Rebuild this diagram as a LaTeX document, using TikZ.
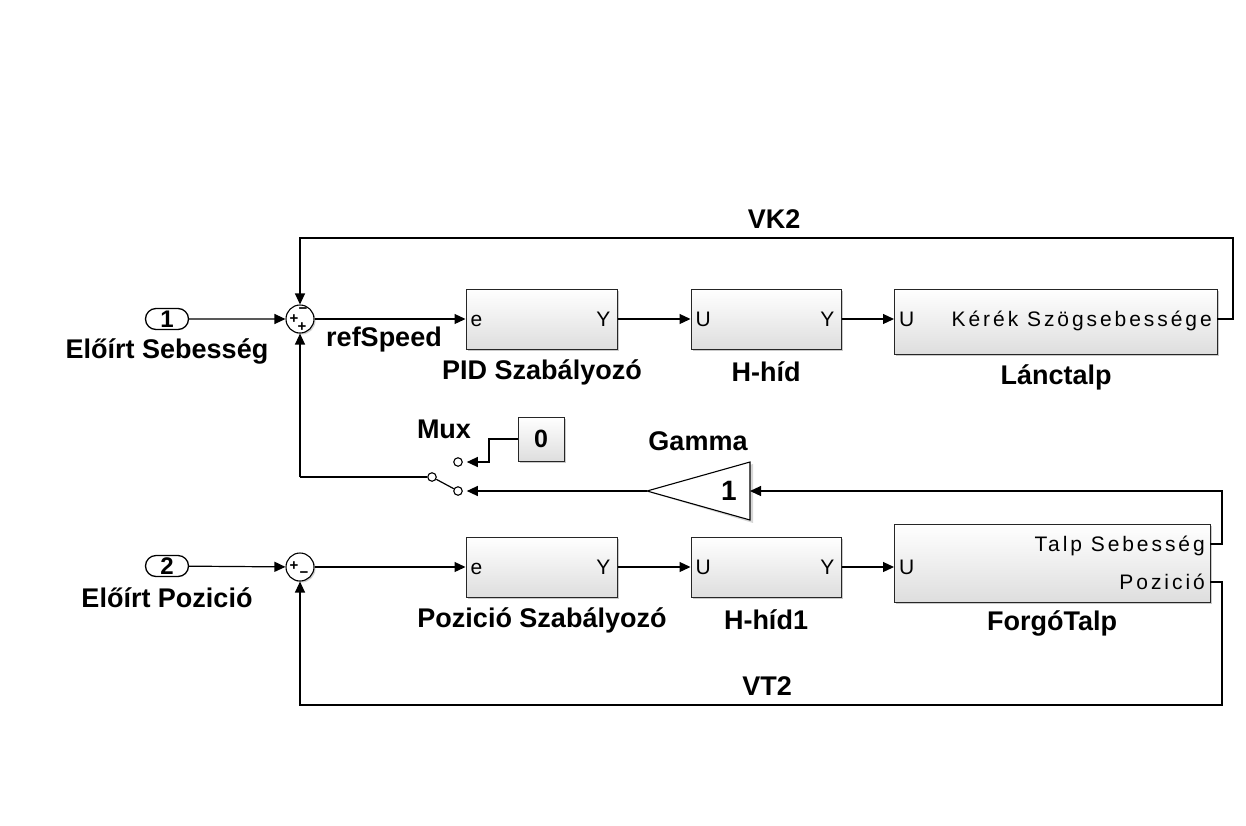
\documentclass[tikz,border=0pt]{standalone}
\usepackage{fontspec}
\setmainfont{Liberation Sans}
\newfontfamily\portfont[LetterSpace=14]{Liberation Sans}
\usetikzlibrary{shapes.misc,shadows,arrows.meta}
\begin{document}
\begin{tikzpicture}[x=1pt,y=-1pt,
  lbl/.style={font=\bfseries\fontsize{27}{29}\selectfont, inner sep=0pt},
  prt/.style={font=\portfont\fontsize{21}{23}\selectfont, inner sep=0pt, text height=15pt, text depth=0pt},
  sgn/.style={font=\bfseries\fontsize{15}{15}\selectfont, inner sep=0pt},
  blk/.style={draw=black!85, line width=1pt, rectangle, top color=white, bottom color=black!13,
    drop shadow={shadow xshift=2pt, shadow yshift=-2pt, opacity=0.35, fill=black!60}, inner sep=0pt},
  inport/.style={draw, line width=1.3pt, rounded rectangle, minimum width=43pt, minimum height=21pt,
    inner sep=0pt, font=\bfseries\fontsize{24}{24}\selectfont, fill=white},
  sumb/.style={draw, line width=1.1pt, circle, minimum size=28pt, inner sep=0pt, fill=white,
    drop shadow={shadow xshift=1.5pt, shadow yshift=-1.5pt, opacity=0.3, fill=black!60}},
  sig/.style={line width=1.2pt},
  arr/.style={sig, -{Triangle[length=11pt,width=10pt]}},
  cont/.style={draw, line width=1.1pt, circle, minimum size=8.5pt, inner sep=0pt, fill=white}
]
\useasboundingbox (0,0) rectangle (1246,825);

% inports
\node[inport] (in1) at (167,319) {1};
\node[lbl] (in1l) at (167,351) {Előírt Sebesség};
\node[inport] (in2) at (167,566) {2};
\node[lbl] (in2l) at (167,598) {Előírt Pozició};

% sums
\node[sumb] (s1) at (300,319) {};
\node[sgn] (s1a) at (303,311) {−};
\node[sgn] (s1b) at (294,319) {+};
\node[sgn] (s1c) at (302,327) {+};
\node[sumb] (s2) at (300,567) {};
\node[sgn] (s2a) at (294,566) {+};
\node[sgn] (s2b) at (304,575) {−};

% blocks row 1
\node[blk, minimum width=151pt, minimum height=60pt] (pid) at (541.5,319) {};
\node[prt, anchor=west] (pide) at (pid.west) [xshift=5pt] {e};
\node[prt, anchor=east] (pidy) at (pid.east) [xshift=-7pt] {Y};
\node[lbl] (pidl) at (542,372) {PID Szabályozó};

\node[blk, minimum width=150pt, minimum height=60pt] (hh) at (766,319) {};
\node[prt, anchor=west] (hhu) at (hh.west) [xshift=5pt] {U};
\node[prt, anchor=east] (hhy) at (hh.east) [xshift=-7pt] {Y};
\node[lbl] (hhl) at (766,372) {H-híd};

\node[blk, minimum width=323pt, minimum height=65pt] (lt) at (1055.5,321.5) {};
\coordinate (ltin) at (894,319);
\coordinate (ltout) at (1217,319);
\node[prt, anchor=west] (ltu) at (ltin) [xshift=5pt] {U};
\node[prt, anchor=east] (lty) at (ltout) [xshift=-5pt] {Kérék Szögsebessége};
\node[lbl] (ltl) at (1056,377) {Lánctalp};

% blocks row 2
\node[blk, minimum width=151pt, minimum height=60pt] (pos) at (541.5,567) {};
\node[prt, anchor=west] (pose) at (pos.west) [xshift=5pt] {e};
\node[prt, anchor=east] (posy) at (pos.east) [xshift=-7pt] {Y};
\node[lbl] (posl) at (542,620) {Pozició Szabályozó};

\node[blk, minimum width=150pt, minimum height=60pt] (hh1) at (766,567) {};
\node[prt, anchor=west] (hh1u) at (hh1.west) [xshift=5pt] {U};
\node[prt, anchor=east] (hh1y) at (hh1.east) [xshift=-7pt] {Y};
\node[lbl] (hh1l) at (766,620) {H-híd1};

\node[blk, minimum width=316pt, minimum height=78pt] (ft) at (1052,563) {};
\coordinate (ftin) at (894,567);
\coordinate (ftv) at (1210,544);
\coordinate (ftp) at (1210,582);
\node[prt, anchor=west] (ftu) at (ftin) [xshift=5pt] {U};
\node[prt, anchor=east] (ftvl) at (ftv) [xshift=-5pt] {Talp Sebesség};
\node[prt, anchor=east] (ftpl) at (ftp) [xshift=-5pt] {Pozició};
\node[lbl] (ftl) at (1052,623) {ForgóTalp};

% constant and switch
\node[blk, minimum width=46pt, minimum height=44pt, font=\bfseries\fontsize{25}{25}\selectfont] (c0) at (541,439) {0};
\node[lbl] (muxl) at (444,429) {Mux};
\node[cont] (swu) at (458,462) {};
\node[cont] (swl) at (458,491) {};
\node[cont] (swp) at (432,477) {};
\draw[sig] (swp) -- (swl);

% gamma
\coordinate (gin) at (750,491);
\coordinate (gout) at (647,491);
\filldraw[fill=black!45, opacity=0.35, draw=none] (652,493) -- (753,464) -- (753,523) -- cycle;
\draw[line width=1.1pt, fill=white] (gout) -- (750,462) -- (750,520) -- cycle;
\node[font=\bfseries\fontsize{28}{28}\selectfont, inner sep=0pt] (g1) at (729,491) {1};
\node[lbl] (gl) at (698,441) {Gamma};

% connections row 1
\draw[arr] (in1) -- (s1);
\draw[arr] (s1) -- (pid.west);
\node[lbl] (rs) at (384,340) {refSpeed};
\draw[arr] (pid.east) -- (hh.west);
\draw[arr] (hh.east) -- (ltin);
\draw[arr] (ltout) -- (1233,319) -- (1233,238) -- (300,238) -- (s1.north);
\node[lbl] (vk2) at (774,219) {VK2};

% row 2
\draw[arr] (in2) -- (s2);
\draw[arr] (s2) -- (pos.west);
\draw[arr] (pos.east) -- (hh1.west);
\draw[arr] (hh1.east) -- (ftin);
\draw[arr] (ftp) -- (1222,582) -- (1222,705) -- (300,705) -- (s2.south);
\node[lbl] (vt2) at (767,686) {VT2};

% gamma path and switch
\draw[arr] (ftv) -- (1222,544) -- (1222,491) -- (gin);
\draw[arr, shorten >=4pt] (gout) -- (swl);
\draw[arr, shorten >=4pt] (c0.west) -- (489,439) -- (489,462) -- (swu);
\draw[sig] (swp) -- (300,477);
\draw[arr] (300,477) -- (s1.south);
\end{tikzpicture}
\end{document}
